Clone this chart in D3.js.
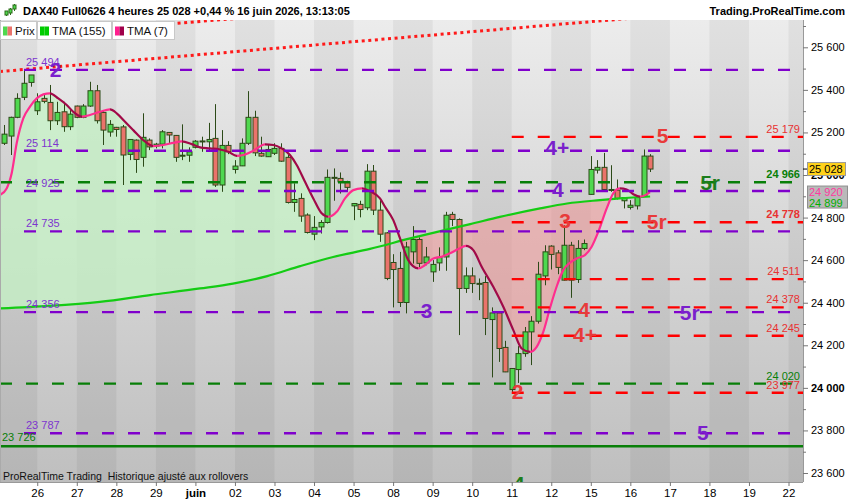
<!DOCTYPE html>
<html>
<head>
<meta charset="utf-8">
<script src="https://cdn.jsdelivr.net/npm/d3@7"></script>
<style>
body { margin: 0; background: #fff; }
text { font-family: "Liberation Sans", Arial, sans-serif; white-space: pre; }
</style>
</head>
<body>
<script>
// ---- data (DAX40 4h) ----
// one row per candle: open, high, low, close
var ohlc = [
  [25149,25235,25141,25192],[25183,25274,25094,25271],[25271,25384,25267,25360],[25365,25493,25352,25431],
  [25435,25470,25415,25470],[25302,25384,25282,25344],[25360,25384,25337,25346],[25341,25423,25211,25255],
  [25255,25344,25235,25294],[25297,25344,25203,25227],[25227,25305,25211,25286],[25324,25326,25267,25271],
  [25271,25333,25267,25324],[25324,25438,25320,25396],[25396,25423,25242,25255],[25294,25305,25141,25211],
  [25202,25258,25180,25238],[25224,25226,25180,25214],[25226,25235,24953,25094],[25097,25168,25070,25167],
  [25164,25167,25010,25073],[25083,25290,25039,25177],[25164,25172,25117,25132],[25136,25151,25125,25145],
  [25145,25211,25125,25203],[25200,25202,25149,25188],[25186,25188,25062,25083],[25090,25238,25070,25093],
  [25093,25130,25062,25109],[25130,25164,25125,25159],[25159,25180,25109,25160],[25156,25245,25109,25167],
  [25172,25333,24944,24953],[24953,25211,24921,25139],[25139,25159,25098,25109],[25026,25070,25007,25042],
  [25043,25172,25042,25149],[25149,25394,25141,25271],[25271,25302,25089,25104],[25102,25180,25086,25089],
  [25086,25141,25085,25120],[25102,25149,25094,25125],[25125,25149,25062,25065],[25083,25094,24866,24871],
  [24871,24961,24827,24885],[24890,24914,24780,24807],[24812,24820,24725,24730],[24722,24807,24694,24754],
  [24756,24788,24725,24777],[24777,25026,24772,24989],[24989,25031,24879,24987],[24984,25012,24913,24968],
  [24968,24973,24921,24942],[24855,24867,24788,24866],[24862,24879,24801,24838],[24846,25051,24835,25018],
  [25018,25047,24812,24835],[24835,24882,24686,24722],[24728,24732,24506,24514],[24589,24628,24378,24556],
  [24561,24639,24380,24401],[24401,24686,24350,24662],[24639,24760,24584,24697],[24697,24707,24566,24585],
  [24587,24662,24576,24615],[24545,24600,24498,24580],[24587,24660,24550,24613],[24615,24827,24550,24811],
  [24815,24827,24760,24791],[24791,24796,24248,24467],[24467,24566,24446,24526],[24526,24566,24446,24490],
  [24491,24514,24412,24489],[24495,24525,24248,24326],[24321,24378,24049,24352],[24352,24353,24122,24185],
  [24190,24221,24074,24075],[23992,24092,23981,24091],[24086,24196,24023,24161],[24161,24286,24146,24263],
  [24263,24337,24107,24313],[24313,24592,24302,24534],[24526,24670,24482,24639],[24666,24670,24556,24627],
  [24634,24647,24534,24566],[24506,24764,24504,24670],[24670,24686,24423,24506],[24509,24694,24493,24655],
  [24655,24697,24647,24678],[24909,25089,24908,25026],[25023,25070,25007,25036],[25036,25104,24929,24932],
  [24932,25046,24921,24931],[24929,24979,24885,24890],[24879,24895,24843,24894],[24848,24882,24838,24858],
  [24855,24905,24838,24895],[24901,25120,24899,25089],[25089,25098,25014,25028]
];

// TMA (7): [candle index, value]
var tma7 = [
  [-0.65,24906],[0.36,24937],[1.12,25008],[1.88,25149],[2.88,25266],[3.9,25321],[4.92,25360],[5.92,25379],
  [6.93,25384],[8.19,25360],[9.47,25329],[10.47,25297],[11.74,25274],[13.0,25282],[14.52,25297],[16.04,25308],
  [17.06,25290],[18.32,25250],[19.57,25211],[21.09,25164],[22.61,25136],[24.13,25141],[25.65,25151],[26.92,25158],
  [28.44,25145],[29.7,25130],[31.21,25125],[32.73,25120],[33.99,25109],[35.27,25090],[36.27,25094],[37.78,25114],
  [39.56,25144],[40.82,25141],[42.09,25125],[43.35,25094],[44.37,25047],[45.63,24968],[46.89,24890],[48.16,24820],
  [49.17,24804],[50.44,24827],[51.7,24890],[52.96,24929],[54.23,24937],[55.49,24924],[57.01,24890],[57.77,24851],
  [59.03,24788],[60.05,24702],[61.3,24600],[62.82,24561],[63.84,24577],[65.1,24608],[66.37,24616],[67.63,24632],
  [68.89,24652],[70.06,24667],[71.17,24647],[72.44,24569],[74.2,24475],[75.72,24381],[77.24,24271],[78.51,24185],
  [79.77,24169],[80.79,24193],[81.79,24263],[82.8,24374],[83.81,24475],[84.82,24553],[85.84,24588],[86.85,24608],
  [88.11,24624],[89.13,24663],[90.14,24733],[91.41,24843],[92.41,24914],[93.43,24937],[94.45,24932],[95.45,24910],
  [96.46,24898],[97.48,24909],[97.98,24920]
];

// TMA (155): [candle index, value]
var tma155 = [
  [-0.65,24373],[6.9,24385],[14.5,24404],[22.1,24436],[29.7,24467],[34.7,24490],[39.9,24525],[44.9,24572],
  [49.9,24615],[55.5,24653],[61.6,24702],[65.7,24733],[70.7,24769],[75.2,24803],[81.3,24843],[85.4,24866],
  [90.4,24882],[93.4,24890],[98,24899]
];

// day labels and the candle index where each day starts
var dayLabels = ["26","27","28","29","juin","02","03","04","05","08","09","10","11","12","15","16","17","18","19","22"];
var dayStartIdx = [5,11,17,23,29,35,41,47,53,59,65,71,77,83,89,95,101,107,113,119];

// horizontal levels
var purpleLevels = [25494, 25114, 24925, 24735, 24356, 23787];
var greenDashLevels = [24966, 24020];
var greenSolidLevel = 23726;
var redLevels = [25179, 24778, 24511, 24378, 24245, 23977];
var redStartIdx = 77;
var strongLevels = [24966, 24778];

// trend channel (dotted red): [candle index, value]
var trendLow = [[0,25488],[90,25723]];
var trendHigh = [[0,25644],[90,25879]];

// wave counts: [text, candle index, value]
var purpleWaves = [["2",6.9,25460],["4+",82.1,25094],["4",83.1,24896],["3",63.2,24327],["5r",102.5,24318],["5",105.1,23754]];
var redWaves = [["5",99.0,25150],["3",84.2,24750],["5r",97.5,24746],["4",87.1,24332],["4+",86.3,24216],["2",77.0,23947]];
var greenWaves = [["5r",105.6,24929],["4",77.2,23514]];

var lastPrice = 25028, lastTma7 = 24920, lastTma155 = 24899;
var yTicks = d3.range(23600, 25800, 100);

// ---- layout ----
var W = 850, H = 500;
var plot = {left: 0, top: 20, right: 803, bottom: 482};

var x = d3.scaleLinear().domain([0, 119]).range([4.3, 788.5]);
var y = d3.scaleLinear().domain([23600, 25600]).range([473, 47.3]);

var fr = d3.formatLocale({decimal: ",", thousands: " ", grouping: [3], currency: ["", ""]});
var fmt = fr.format(",d");

var COL = {
  purple: "#8000cc", purpleText: "#7d35cf", red: "#ff0000", redText: "#e83232",
  green: "#087f08", up: "#4fd84f", down: "#ea736b", edge: "#2c4a18",
  pink: "#ff2d8e", maroon: "#a10a48", tma155: "#14cc14"
};

var svg = d3.select("body").append("svg").attr("width", W).attr("height", H);
var defs = svg.append("defs");

defs.append("clipPath").attr("id", "plotClip").append("rect")
  .attr("x", plot.left).attr("y", plot.top)
  .attr("width", plot.right - plot.left).attr("height", plot.bottom - plot.top);

var bg = defs.append("linearGradient").attr("id", "bgGrad")
  .attr("x1", 0).attr("x2", 0).attr("y1", 0).attr("y2", 1);
bg.append("stop").attr("offset", 0).attr("stop-color", "#ececec");
bg.append("stop").attr("offset", 1).attr("stop-color", "#bfbfbf");

svg.append("rect").attr("width", W).attr("height", H).attr("fill", "#fff");

var g = svg.append("g").attr("clip-path", "url(#plotClip)");

g.append("rect")
  .attr("x", plot.left).attr("y", plot.top)
  .attr("width", plot.right - plot.left).attr("height", plot.bottom - plot.top)
  .attr("fill", "url(#bgGrad)");

// alternating day bands
var bounds = [plot.left].concat(dayStartIdx.map(function(d){ return x(d); })).concat([plot.right]);
var bands = d3.range(bounds.length - 1).filter(function(k){ return k % 2 === 0; });
g.selectAll("rect.band").data(bands).join("rect")
  .attr("class", "band")
  .attr("x", function(k){ return bounds[k]; })
  .attr("y", plot.top)
  .attr("width", function(k){ return bounds[k + 1] - bounds[k]; })
  .attr("height", plot.bottom - plot.top)
  .attr("fill", "#000").attr("opacity", 0.05);

// fills between the two averages
var curve = d3.curveMonotoneX;
var areaTo = function(edge) {
  return d3.area().curve(curve).x(function(d){ return x(d[0]); }).y0(edge).y1(function(d){ return y(d[1]); });
};
defs.append("clipPath").attr("id", "below7").append("path").attr("d", areaTo(plot.bottom)(tma7));
defs.append("clipPath").attr("id", "above7").append("path").attr("d", areaTo(plot.top)(tma7));

g.append("path").attr("d", areaTo(plot.top)(tma155))
  .attr("clip-path", "url(#below7)")
  .attr("fill", "rgba(196,242,196,0.75)");
g.append("path").attr("d", areaTo(plot.bottom)(tma155))
  .attr("clip-path", "url(#above7)")
  .attr("fill", "rgba(240,150,150,0.55)");

// dotted trend channel
[trendLow, trendHigh].forEach(function(t) {
  var k = (t[1][1] - t[0][1]) / (t[1][0] - t[0][0]);
  var i0 = x.invert(plot.left), i1 = x.invert(plot.right);
  g.append("line")
    .attr("x1", x(i0)).attr("y1", y(t[0][1] + k * (i0 - t[0][0])))
    .attr("x2", x(i1)).attr("y2", y(t[0][1] + k * (i1 - t[0][0])))
    .attr("stroke", "#ff1a1a").attr("stroke-width", 3)
    .attr("stroke-dasharray", "3,3.6");
});

// candles
var cx = function(i){ return Math.round(x(i)) + 0.5; };
var candles = g.append("g");
candles.selectAll("line").data(ohlc).join("line")
  .attr("x1", function(d, i){ return cx(i); })
  .attr("x2", function(d, i){ return cx(i); })
  .attr("y1", function(d){ return y(d[1]); })
  .attr("y2", function(d){ return y(d[2]); })
  .attr("stroke", COL.edge).attr("stroke-width", 1);
candles.selectAll("rect").data(ohlc).join("rect")
  .attr("x", function(d, i){ return cx(i) - 2.5; })
  .attr("width", 5)
  .attr("y", function(d){ return y(Math.max(d[0], d[3])); })
  .attr("height", function(d){ return Math.max(1, Math.abs(y(d[0]) - y(d[3]))); })
  .attr("fill", function(d){ return d[3] >= d[0] ? COL.up : COL.down; })
  .attr("stroke", COL.edge).attr("stroke-width", 1);

// averages
var line = d3.line().curve(curve).x(function(d){ return x(d[0]); }).y(function(d){ return y(d[1]); });
g.append("path").attr("d", line(tma155))
  .attr("fill", "none").attr("stroke", COL.tma155).attr("stroke-width", 2.2);

// colour TMA(7) by slope: pink rising, maroon falling
var t7x = tma7.map(function(d){ return x(d[0]); });
var span = t7x[t7x.length - 1] - t7x[0];
var grad = defs.append("linearGradient").attr("id", "tma7Grad")
  .attr("gradientUnits", "userSpaceOnUse")
  .attr("x1", t7x[0]).attr("x2", t7x[t7x.length - 1]).attr("y1", 0).attr("y2", 0);
var prev = null;
for (var k = 0; k < tma7.length - 1; k++) {
  var c = tma7[k + 1][1] >= tma7[k][1] ? COL.pink : COL.maroon;
  if (c !== prev) {
    var off = (t7x[k] - t7x[0]) / span;
    if (prev) grad.append("stop").attr("offset", off).attr("stop-color", prev);
    grad.append("stop").attr("offset", off).attr("stop-color", c);
    prev = c;
  }
}
grad.append("stop").attr("offset", 1).attr("stop-color", prev);
g.append("path").attr("d", line(tma7))
  .attr("fill", "none").attr("stroke", "url(#tma7Grad)").attr("stroke-width", 2.2);

// horizontal levels
var dash = "12,14";
g.selectAll("line.purple").data(purpleLevels).join("line")
  .attr("x1", 24).attr("x2", plot.right)
  .attr("y1", function(d){ return y(d); }).attr("y2", function(d){ return y(d); })
  .attr("stroke", COL.purple).attr("stroke-width", 2.4).attr("stroke-dasharray", dash);
g.selectAll("line.gdash").data(greenDashLevels).join("line")
  .attr("x1", plot.left).attr("x2", plot.right)
  .attr("y1", function(d){ return y(d); }).attr("y2", function(d){ return y(d); })
  .attr("stroke", COL.green).attr("stroke-width", 2.4).attr("stroke-dasharray", dash);
g.append("line")
  .attr("x1", plot.left).attr("x2", plot.right)
  .attr("y1", y(greenSolidLevel)).attr("y2", y(greenSolidLevel))
  .attr("stroke", COL.green).attr("stroke-width", 2.4);
g.selectAll("line.red").data(redLevels).join("line")
  .attr("x1", x(redStartIdx)).attr("x2", plot.right)
  .attr("y1", function(d){ return y(d); }).attr("y2", function(d){ return y(d); })
  .attr("stroke", COL.red).attr("stroke-width", 2.4).attr("stroke-dasharray", dash);

// level labels
g.selectAll("text.pl").data(purpleLevels).join("text")
  .attr("x", 26).attr("y", function(d){ return y(d) - 4; })
  .attr("font-size", 11).attr("fill", COL.purpleText).text(fmt);
g.append("text").attr("x", 2).attr("y", y(greenSolidLevel) - 5)
  .attr("font-size", 11).attr("fill", COL.green).text(fmt(greenSolidLevel));
var rightLabels = greenDashLevels.map(function(v){ return [v, COL.green]; })
  .concat(redLevels.map(function(v){ return [v, COL.redText]; }));
g.selectAll("text.rl").data(rightLabels).join("text")
  .attr("x", 800).attr("y", function(d){ return y(d[0]) - 4; })
  .attr("text-anchor", "end").attr("font-size", 11)
  .attr("font-weight", function(d){ return strongLevels.indexOf(d[0]) >= 0 ? "bold" : "normal"; })
  .attr("fill", function(d){ return d[1]; })
  .text(function(d){ return fmt(d[0]); });

// wave counts
[[purpleWaves, "#7a1fcc"], [redWaves, "#e83a3a"], [greenWaves, "#1c7d1c"]].forEach(function(p) {
  g.selectAll(null).data(p[0]).join("text")
    .attr("x", function(d){ return x(d[1]); })
    .attr("y", function(d){ return y(d[2]); })
    .attr("font-size", 21).attr("font-weight", "bold")
    .attr("fill", p[1])
    .text(function(d){ return d[0]; });
});

g.append("text").attr("x", 3).attr("y", 480).attr("font-size", 10.5).attr("fill", "#111")
  .text("ProRealTime Trading  Historique ajusté aux rollovers");

// frame
svg.append("line").attr("x1", plot.right + 0.5).attr("x2", plot.right + 0.5)
  .attr("y1", plot.top).attr("y2", plot.bottom).attr("stroke", "#999");
svg.append("line").attr("x1", plot.left).attr("x2", plot.right)
  .attr("y1", plot.bottom + 0.5).attr("y2", plot.bottom + 0.5).attr("stroke", "#999");
svg.append("line").attr("x1", 0.5).attr("x2", 0.5)
  .attr("y1", plot.top).attr("y2", plot.bottom).attr("stroke", "#aaa");

// right axis
var yAxis = svg.append("g").attr("transform", "translate(" + plot.right + ",0)")
  .call(d3.axisRight(y).tickValues(yTicks).tickSize(5).tickPadding(3)
    .tickFormat(function(d){ return d % 200 === 0 ? fmt(d) : ""; }));
yAxis.select(".domain").remove();
yAxis.selectAll(".tick line").attr("stroke", "#777")
  .attr("x2", function(d){ return d % 200 === 0 ? 5 : 3; });
yAxis.selectAll(".tick text").attr("font-size", 11).attr("fill", "#000")
  .attr("font-family", "Liberation Sans, Arial, sans-serif")
  .attr("font-weight", function(d){ return d % 1000 === 0 ? "bold" : "normal"; });

// bottom axis
var xAxis = svg.append("g").attr("transform", "translate(0," + plot.bottom + ")")
  .call(d3.axisBottom(x).tickValues(dayStartIdx).tickSize(4).tickPadding(3)
    .tickFormat(function(d, i){ return dayLabels[i]; }));
xAxis.select(".domain").remove();
xAxis.selectAll(".tick line").attr("stroke", "#777");
xAxis.selectAll(".tick text").attr("font-size", 11.5).attr("fill", "#000")
  .attr("font-family", "Liberation Sans, Arial, sans-serif")
  .attr("font-weight", function(d, i){ return dayLabels[i] === "juin" ? "bold" : "normal"; });

// price tags on the axis
svg.append("line").attr("x1", plot.right).attr("x2", plot.right + 5)
  .attr("y1", y(lastPrice)).attr("y2", y(lastPrice)).attr("stroke", "#000");
svg.append("rect").attr("x", 807.5).attr("y", y(lastPrice) - 6.5).attr("width", 38).attr("height", 13)
  .attr("fill", "#ffd21a").attr("stroke", "#999");
svg.append("text").attr("x", 809).attr("y", y(lastPrice) + 4).attr("font-size", 11).attr("fill", "#000")
  .text(fmt(lastPrice));
svg.append("rect").attr("x", 807.5).attr("y", y(lastTma7) - 6).attr("width", 40).attr("height", 22)
  .attr("fill", "#b9b9b9").attr("stroke", "#8f8f8f");
svg.append("text").attr("x", 809).attr("y", y(lastTma7) + 4).attr("font-size", 11).attr("fill", "#ff3aa0")
  .text(fmt(lastTma7));
svg.append("text").attr("x", 809).attr("y", y(lastTma7) + 14.5).attr("font-size", 11).attr("fill", "#00b000")
  .text(fmt(lastTma155));

// header
svg.append("text").attr("x", 23).attr("y", 15).attr("font-size", 11).attr("font-weight", "bold")
  .attr("fill", "#000").text("DAX40 Full0626 4 heures 25 028 +0,44 % 16 juin 2026, 13:13:05");
svg.append("text").attr("x", 845).attr("y", 15).attr("text-anchor", "end")
  .attr("font-size", 11).attr("font-weight", "bold").attr("fill", "#000")
  .text("Trading.ProRealTime.com");

// little candlestick icon
var icon = svg.append("g").attr("stroke", "#2c6a18");
[[6, 12, 16, 11, 15], [10, 8, 15, 9, 13], [14, 4, 11, 5, 9]].forEach(function(c) {
  icon.append("line").attr("x1", c[0] + 0.5).attr("x2", c[0] + 0.5).attr("y1", c[1]).attr("y2", c[2]);
  icon.append("rect").attr("x", c[0] - 1).attr("y", c[3]).attr("width", 3).attr("height", c[4] - c[3])
    .attr("fill", "#4fd84f");
});

// legend
var legend = svg.append("g");
var items = [
  {label: "Prix", x0: 0, x1: 37, sw: [COL.up, COL.down]},
  {label: "TMA (155)", x0: 37, x1: 112, sw: ["#00cc00", "#00cc00"]},
  {label: "TMA (7)", x0: 112, x1: 175, sw: ["#ff1f8f", "#a0004a"]}
];
items.forEach(function(it) {
  legend.append("rect").attr("x", it.x0 + 0.5).attr("y", 21.5).attr("width", it.x1 - it.x0 - 1).attr("height", 18)
    .attr("fill", "#fff").attr("stroke", "#c8c8c8");
  legend.append("rect").attr("x", it.x0 + 3).attr("y", 26.5).attr("width", 4.5).attr("height", 9).attr("fill", it.sw[0]);
  legend.append("rect").attr("x", it.x0 + 7.5).attr("y", 26.5).attr("width", 4.5).attr("height", 9).attr("fill", it.sw[1]);
  legend.append("text").attr("x", it.x0 + 15).attr("y", 34.5).attr("font-size", 11.5).attr("fill", "#111").text(it.label);
});
</script>
</body>
</html>
